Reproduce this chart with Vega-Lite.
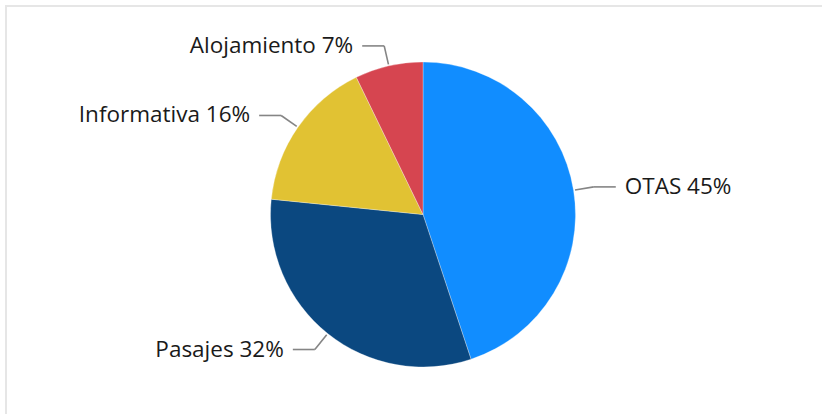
{
  "$schema": "https://vega.github.io/schema/vega-lite/v6.json",
  "width": 834,
  "height": 417,
  "autosize": "none",
  "padding": {"left": 6, "top": 6, "right": 0, "bottom": 0},
  "background": "white",
  "config": {"view": {"stroke": "#E6E6E6", "strokeWidth": 2}},
  "data": {"values": [
    {"cat": "OTAS", "value": 44.9, "pct": "45%"},
    {"cat": "Pasajes", "value": 31.7, "pct": "32%"},
    {"cat": "Informativa", "value": 16.2, "pct": "16%"},
    {"cat": "Alojamiento", "value": 7.2, "pct": "7%"}
  ]},
  "transform": [
    {"window": [{"op": "sum", "field": "value", "as": "cum"}], "frame": [null, 0]},
    {"calculate": "datum.cum - datum.value", "as": "start"},
    {"calculate": "2 * PI * (datum.cum - datum.value / 2) / 100", "as": "ang"},
    {"calculate": "sin(datum.ang)", "as": "s"},
    {"calculate": "cos(datum.ang)", "as": "c"},
    {"calculate": "154 * datum.s", "as": "x0"},
    {"calculate": "154 * datum.c", "as": "y0"},
    {"calculate": "173 * datum.s", "as": "x1"},
    {"calculate": "173 * datum.c", "as": "y1"},
    {"calculate": "datum.x1 + (datum.s > 0 ? 22 : -22)", "as": "x2"},
    {"calculate": "datum.x2 + (datum.s > 0 ? 9 : -9)", "as": "xt"},
    {"calculate": "datum.cat + ' ' + datum.pct", "as": "label"}
  ],
  "layer": [
    {
      "mark": {"type": "arc", "outerRadius": 152.5, "stroke": "white", "strokeWidth": 0.3},
      "encoding": {
        "theta": {"field": "start", "type": "quantitative", "scale": {"domain": [0, 100], "range": [0, 6.283185307179586]}},
        "theta2": {"field": "cum"},
        "color": {"field": "cat", "type": "nominal", "legend": null,
          "scale": {"domain": ["OTAS", "Pasajes", "Informativa", "Alojamiento"], "range": ["#118DFF", "#0B4880", "#E1C233", "#D64550"]}}
      }
    },
    {
      "mark": {"type": "rule", "color": "#858585", "strokeWidth": 1.6},
      "encoding": {
        "x": {"field": "x0", "type": "quantitative", "scale": {"domain": [-417, 417], "nice": false, "zero": false}, "axis": null},
        "y": {"field": "y0", "type": "quantitative", "scale": {"domain": [-208.5, 208.5], "nice": false, "zero": false}, "axis": null},
        "x2": {"field": "x1"},
        "y2": {"field": "y1"}
      }
    },
    {
      "mark": {"type": "rule", "color": "#858585", "strokeWidth": 1.6},
      "encoding": {
        "x": {"field": "x1", "type": "quantitative", "scale": {"domain": [-417, 417], "nice": false, "zero": false}, "axis": null},
        "y": {"field": "y1", "type": "quantitative", "scale": {"domain": [-208.5, 208.5], "nice": false, "zero": false}, "axis": null},
        "x2": {"field": "x2"},
        "y2": {"field": "y1"}
      }
    },
    {
      "transform": [{"filter": "datum.s > 0"}],
      "mark": {"type": "text", "align": "left", "baseline": "middle", "font": "Open Sans", "fontSize": 22.5, "color": "#1A1A1A"},
      "encoding": {
        "x": {"field": "xt", "type": "quantitative", "scale": {"domain": [-417, 417], "nice": false, "zero": false}, "axis": null},
        "y": {"field": "y1", "type": "quantitative", "scale": {"domain": [-208.5, 208.5], "nice": false, "zero": false}, "axis": null},
        "text": {"field": "label"}
      }
    },
    {
      "transform": [{"filter": "datum.s <= 0"}],
      "mark": {"type": "text", "align": "right", "baseline": "middle", "font": "Open Sans", "fontSize": 22.5, "color": "#1A1A1A"},
      "encoding": {
        "x": {"field": "xt", "type": "quantitative", "scale": {"domain": [-417, 417], "nice": false, "zero": false}, "axis": null},
        "y": {"field": "y1", "type": "quantitative", "scale": {"domain": [-208.5, 208.5], "nice": false, "zero": false}, "axis": null},
        "text": {"field": "label"}
      }
    }
  ]
}
